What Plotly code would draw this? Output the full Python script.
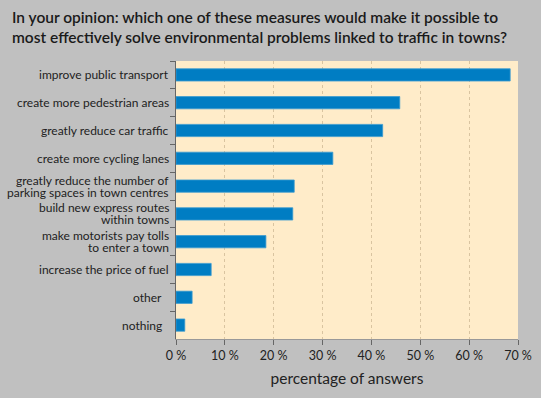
import plotly.graph_objects as go

categories = [
    "improve public transport",
    "create more pedestrian areas",
    "greatly reduce car traffic",
    "create more cycling lanes",
    "greatly reduce the number of|parking spaces in town centres",
    "build new express routes|within towns",
    "make motorists pay tolls|to enter a town",
    "increase the price of fuel",
    "other",
    "nothing",
]
values = [68.4, 45.8, 42.3, 32.1, 24.2, 23.9, 18.4, 7.2, 3.3, 1.8]
tick_vals = [0, 10, 20, 30, 40, 50, 60, 70]
tick_text = ["0 %", "10 %", "20 %", "30 %", "40 %", "50 %", "60 %", "70 %"]
title_lines = [
    "In your opinion: which one of these measures would make it possible to",
    "most effectively solve environmental problems linked to traffic in towns?",
]

FONT = "Lato, Open Sans, sans-serif"

fig = go.Figure(go.Bar(
    x=values, y=categories, orientation="h",
    marker=dict(color="#007DC3", line=dict(color="#3A9AD0", width=0.8)),
    width=0.44,
))

annotations = []
for i, line in enumerate(title_lines):
    annotations.append(dict(
        text=line, xref="paper", yref="paper", x=-0.485, y=1.0, yshift=44 - 20 * i,
        xanchor="left", yanchor="middle", showarrow=False,
        font=dict(family=FONT, size=15.5, color="#1a1a1a", weight=600),
    ))

for cat in categories:
    parts = cat.split("|")
    n = len(parts)
    for j, p in enumerate(parts):
        annotations.append(dict(
            text=p, xref="paper", yref="y", x=0,
            y=cat, xshift=-12 if cat in ("other", "nothing") else -5,
            yshift=(6 - 12 * j) if n == 2 else 0,
            xanchor="right", yanchor="middle", showarrow=False,
            font=dict(family=FONT, size=12, color="#222222"),
        ))

fig.update_layout(
    width=541, height=398,
    paper_bgcolor="#C0C0C0", plot_bgcolor="#FFECC9",
    margin=dict(l=176, r=23, t=61, b=59, autoexpand=False),
    showlegend=False,
    font=dict(family=FONT, color="#222222"),
    annotations=annotations,
)

fig.update_xaxes(
    range=[0, 70], tickvals=tick_vals, ticktext=tick_text,
    showgrid=True, gridcolor="#D9C4A0", griddash="dot", gridwidth=1,
    ticks="outside", ticklen=5, tickcolor="#666666",
    showline=True, linecolor="#999999", linewidth=1,
    tickfont=dict(size=12.5, color="#222222"),
    title=dict(text="percentage of answers", font=dict(size=15.5, color="#222222"), standoff=11),
    zeroline=False, fixedrange=True, automargin=False,
)
fig.update_yaxes(
    autorange="reversed", tickson="boundaries",
    ticks="outside", ticklen=5, tickcolor="#666666",
    showline=True, linecolor="#666666", linewidth=1,
    showgrid=False, showticklabels=False,
    fixedrange=True, automargin=False,
)

fig.write_html(
    "out.html",
    config={"displayModeBar": False},
    post_script="document.body.style.margin='0';document.body.style.padding='0';document.body.style.overflow='hidden';",
)
